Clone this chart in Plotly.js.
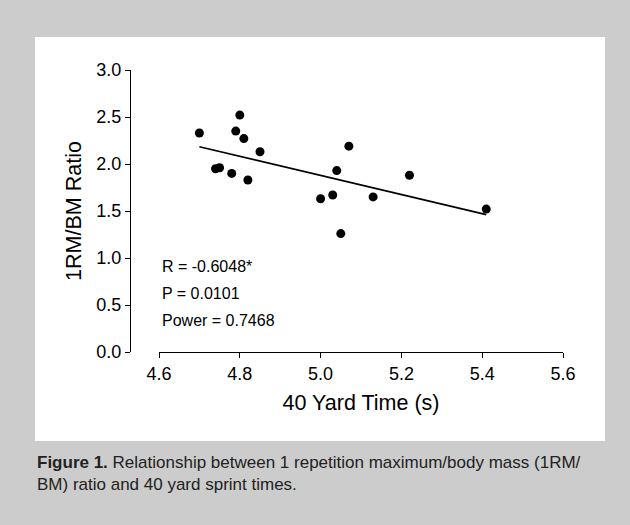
<!DOCTYPE html>
<html>
<head>
<meta charset="utf-8">
<script src="https://cdn.plot.ly/plotly-3.0.1.min.js"></script>
<style>
html,body{margin:0;padding:0;background:#cccccc;}
#chart{width:630px;height:525px;}
</style>
</head>
<body>
<div id="chart"></div>
<script>
// Data
const sprintTime = [4.70, 4.80, 4.79, 4.81, 4.85, 4.74, 4.75, 4.78, 4.82, 5.00, 5.03, 5.05, 5.04, 5.07, 5.13, 5.22, 5.41];
const rmRatio    = [2.33, 2.52, 2.35, 2.27, 2.13, 1.95, 1.96, 1.90, 1.83, 1.63, 1.67, 1.26, 1.93, 2.19, 1.65, 1.88, 1.52];
const xTicks = [4.6, 4.8, 5.0, 5.2, 5.4, 5.6];
const yTicks = [0.0, 0.5, 1.0, 1.5, 2.0, 2.5, 3.0];
const statLines = ["R = -0.6048*", "P = 0.0101", "Power = 0.7468"];

// Least squares fit from the data
const n = sprintTime.length;
const mx = sprintTime.reduce((a,b)=>a+b,0)/n;
const my = rmRatio.reduce((a,b)=>a+b,0)/n;
let sxy = 0, sxx = 0;
for (let i=0;i<n;i++){ sxy += (sprintTime[i]-mx)*(rmRatio[i]-my); sxx += (sprintTime[i]-mx)**2; }
const slope = sxy/sxx, icpt = my - slope*mx;
const xMin = Math.min(...sprintTime), xMax = Math.max(...sprintTime);
const fitX = [xMin, xMax];
const fitY = fitX.map(x => icpt + slope*x);

const FONT = "Liberation Sans, Arial, sans-serif";

const traces = [
  {x: fitX, y: fitY, mode: 'lines', line: {color: '#000', width: 1.6}, hoverinfo: 'skip', showlegend: false},
  {x: sprintTime, y: rmRatio, mode: 'markers', marker: {color: '#000', size: 9}, showlegend: false}
];

const layout = {
  width: 630, height: 525,
  paper_bgcolor: '#cccccc', plot_bgcolor: 'rgba(0,0,0,0)',
  margin: {l: 130, r: 67, t: 70, b: 173},
  showlegend: false,
  font: {family: FONT, color: '#000'},
  xaxis: {
    domain: [29/433, 1], range: [4.6, 5.6], tickvals: xTicks, ticktext: xTicks.map(v=>v.toFixed(1)),
    showline: true, linecolor: '#000', linewidth: 1, ticks: 'outside', ticklen: 5, tickcolor: '#000',
    showgrid: false, zeroline: false, tickfont: {size: 18, family: FONT},
    title: {text: '40 Yard Time (s)', font: {size: 21.5, family: FONT}, standoff: 12}
  },
  yaxis: {
    anchor: 'free', position: 0, range: [0, 3], tickvals: yTicks, ticktext: yTicks.map(v=>v.toFixed(1)),
    showline: true, linecolor: '#000', linewidth: 1, ticks: 'outside', ticklen: 5, tickcolor: '#000',
    showgrid: false, zeroline: false, tickfont: {size: 18, family: FONT},
    title: {text: '1RM/BM Ratio', font: {size: 21.5, family: FONT}, standoff: 7}
  },
  shapes: [
    {type: 'rect', xref: 'paper', yref: 'paper', x0: (35-130)/433, x1: (605-130)/433,
     y0: (352-441)/282, y1: (352-37)/282, fillcolor: '#ffffff', line: {width: 0}, layer: 'below'}
  ],
  annotations: statLines.map((t, i) => ({
    text: t, xref: 'paper', yref: 'paper', x: (160-130)/433, y: (352-(266+27*i))/282,
    xanchor: 'left', yanchor: 'middle', showarrow: false, font: {size: 16, family: FONT, color: '#000'}
  })).concat([
    {text: '<b>Figure 1.</b> Relationship between 1 repetition maximum/body mass (1RM/<br>BM) ratio and 40 yard sprint times.',
     xref: 'paper', yref: 'paper', x: (35-130)/433, y: (352-451)/282, xanchor: 'left', yanchor: 'top',
     align: 'left', showarrow: false, font: {size: 17, family: FONT, color: '#222'}}
  ])
};

Plotly.newPlot('chart', traces, layout, {displayModeBar: false, staticPlot: true});
</script>
</body>
</html>
